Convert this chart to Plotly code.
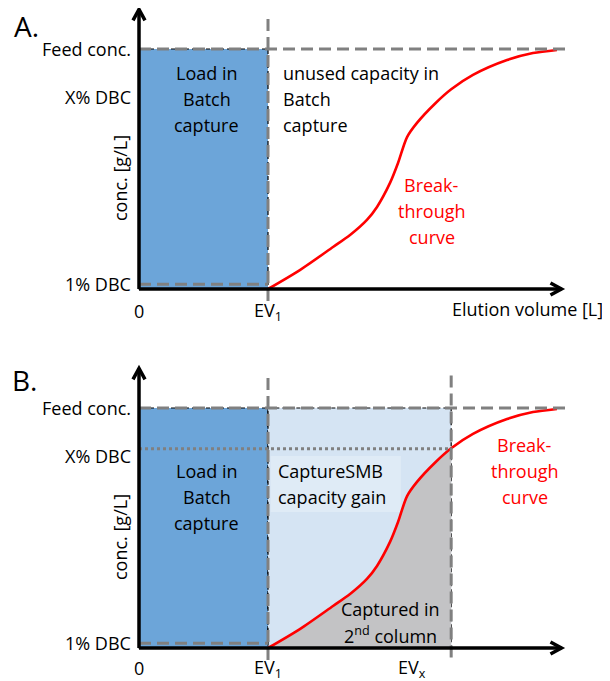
import plotly.graph_objects as go

# ---------------- data ----------------
# concentration levels (y, fraction of feed concentration)
y_tick_labels = ["Feed conc.", "X% DBC", "1% DBC"]
y_tick_values = [1.0, 0.80, 0.02]
feed_conc = 1.0
dbc_1pct = 0.02
xdbc_line = 0.83          # dotted X% DBC line in panel B

# elution volume marks (x)
ev1 = 1.0
evx = 2.42
x_ticks_a = ["0", "EV<sub>1</sub>"]
x_ticks_a_vals = [0.0, ev1]
x_ticks_b = ["0", "EV<sub>1</sub>"]
x_ticks_b_vals = [0.0, ev1]

# breakthrough curve
curve_x = [1.0, 1.25, 1.504, 1.636, 1.767, 1.845, 1.946, 2.008, 2.078, 2.155, 2.30, 2.42, 2.589, 2.853, 3.054, 3.24]
curve_y = [0.0, 0.08, 0.175, 0.225, 0.288, 0.342, 0.442, 0.525, 0.633, 0.692, 0.775, 0.832, 0.892, 0.954, 0.983, 0.996]

# ---------------- styling ----------------
OFF = 8                    # page body margin
W, H = 610 - OFF, 681 - OFF
PX_X = 129.0   # px per x unit
PX_Y = 240.0   # px per y unit
X0 = 139 - OFF       # px of x=0
YA0 = 289 - OFF      # px of y=0 panel A
YB0 = 648 - OFF      # px of y=0 panel B
SPLIT = 340 - OFF

FONT = "Open Sans"
FS = 18
BLUE = "#6CA5D9"
LBLUE = "#D5E4F3"
GRAY_FILL = "#C3C3C5"
GRAY = "#808080"
RED = "#FF0000"
LINE_DY = 26 / PX_Y

x_end_dash = 3.32
x_arrow = 3.275
y_arrow = 1.165

fig = go.Figure()

def axes_names(panel):
    return ("x", "y") if panel == "A" else ("x2", "y2")

# gray fill under curve (panel B, EV1..EVx)
fx = [x for x in curve_x if x <= evx]
fy = [y for x, y in zip(curve_x, curve_y) if x <= evx]
fig.add_trace(go.Scatter(x=fx, y=fy, xaxis="x2", yaxis="y2", mode="lines",
                         line=dict(width=0, shape="spline", smoothing=0.8), fill="tozeroy",
                         fillcolor=GRAY_FILL, hoverinfo="skip", showlegend=False))

# red breakthrough curves
for p in ["A", "B"]:
    xa, ya = axes_names(p)
    fig.add_trace(go.Scatter(x=curve_x, y=curve_y, xaxis=xa, yaxis=ya, mode="lines",
                             line=dict(color=RED, width=2.6, shape="spline", smoothing=0.8),
                             hoverinfo="skip", showlegend=False))

shapes = []
ann = []

def rect(p, x0, x1, y0, y1, color):
    xa, ya = axes_names(p)
    shapes.append(dict(type="rect", xref=xa, yref=ya, x0=x0, x1=x1, y0=y0, y1=y1,
                       fillcolor=color, line=dict(color="black", width=1.2, dash="4px,3px"),
                       layer="below"))

def hline(p, y, x0, x1, dash="12px,6px", color=GRAY, width=3):
    xa, ya = axes_names(p)
    shapes.append(dict(type="line", xref=xa, yref=ya, x0=x0, x1=x1, y0=y, y1=y,
                       line=dict(color=color, width=width, dash=dash), layer="above"))

def vline(p, x, y0, y1, dash="12px,6px", color=GRAY, width=3):
    xa, ya = axes_names(p)
    shapes.append(dict(type="line", xref=xa, yref=ya, x0=x, x1=x, y0=y0, y1=y1,
                       line=dict(color=color, width=width, dash=dash), layer="above"))

def text_block(p, lines, x, y_center, color="black", xanchor="center", size=FS):
    xa, ya = axes_names(p)
    n = len(lines)
    for i, t in enumerate(lines):
        y = y_center + ((n - 1) / 2 - i) * LINE_DY
        ann.append(dict(x=x, y=y, xref=xa, yref=ya, text=t, showarrow=False,
                        xanchor=xanchor, yanchor="middle",
                        font=dict(family=FONT, size=size, color=color)))

def arrows(p):
    xa, ya = axes_names(p)
    # axis lines
    shapes.append(dict(type="line", xref=xa, yref=ya, x0=0, x1=0, y0=0, y1=y_arrow,
                       line=dict(color="black", width=3.5), layer="above"))
    shapes.append(dict(type="line", xref=xa, yref=ya, x0=0, x1=x_arrow, y0=0, y1=0,
                       line=dict(color="black", width=3.5), layer="above"))
    # chevron heads (pixel-sized, anchored at the tips)
    shapes.append(dict(type="path", xref=xa, yref=ya, xsizemode="pixel", ysizemode="pixel",
                       xanchor=0, yanchor=y_arrow, path="M-6,-11 L0,0 L6,-11",
                       line=dict(color="black", width=3.5), layer="above"))
    shapes.append(dict(type="path", xref=xa, yref=ya, xsizemode="pixel", ysizemode="pixel",
                       xanchor=x_arrow, yanchor=0, path="M-11,6 L0,0 L-11,-6",
                       line=dict(color="black", width=3.5), layer="above"))

# ---- panel A ----
rect("A", 0, ev1, 0, feed_conc, BLUE)
hline("A", feed_conc, 0, x_end_dash)
hline("A", dbc_1pct, 0, ev1)
vline("A", ev1, -0.05, 1.14)
arrows("A")
text_block("A", ["Load in", "Batch", "capture"], 0.527, 0.79)
text_block("A", ["unused capacity in", "Batch", "capture"], 1.10, 0.79, xanchor="left")
text_block("A", ["Break-", "through", "curve"], 2.27, 0.325, color=RED)

# ---- panel B ----
rect("B", 0, ev1, 0, feed_conc, BLUE)
rect("B", ev1, evx, 0, feed_conc, LBLUE)
hline("B", feed_conc, 0, x_end_dash)
hline("B", dbc_1pct, 0, ev1)
hline("B", xdbc_line, 0, evx, dash="3px,3px", width=3)
vline("B", ev1, -0.05, 1.146)
vline("B", evx, -0.04, 1.146)
arrows("B")
text_block("B", ["Load in", "Batch", "capture"], 0.527, 0.63)
# light box behind CaptureSMB text
shapes.append(dict(type="rect", xref="x2", yref="y2", x0=1.02, x1=2.03, y0=0.567, y1=0.80,
                   fillcolor="rgba(255,255,255,0.25)", line=dict(width=0), layer="below"))
text_block("B", ["CaptureSMB", "capacity gain"], 1.065, 0.683, xanchor="left")
text_block("B", ["Break-", "through", "curve"], 2.99, 0.7375, color=RED)
text_block("B", ["Captured in", "2<sup>nd</sup> column"], 1.946, 0.108)

# ---- tick labels / titles ----
for p in ["A", "B"]:
    xa, ya = axes_names(p)
    for lab, v in zip(y_tick_labels, y_tick_values):
        ann.append(dict(x=-0.047, y=v, xref=xa, yref=ya, text=lab, showarrow=False,
                        xanchor="right", yanchor="middle", font=dict(family=FONT, size=FS, color="black")))
    ann.append(dict(x=-0.147, y=0.4625, xref=xa, yref=ya, text="conc. [g/L]", textangle=-90,
                    showarrow=False, xanchor="center", yanchor="middle",
                    font=dict(family=FONT, size=FS, color="black")))

for lab, v in zip(x_ticks_a, x_ticks_a_vals):
    ann.append(dict(x=v, y=-0.092, xref="x", yref="y", text=lab, showarrow=False,
                    xanchor="center", yanchor="middle", font=dict(family=FONT, size=FS, color="black")))
for lab, v in zip(x_ticks_b, x_ticks_b_vals):
    ann.append(dict(x=v, y=-0.085, xref="x2", yref="y2", text=lab, showarrow=False,
                    xanchor="center", yanchor="middle", font=dict(family=FONT, size=FS, color="black")))
ann.append(dict(x=evx - 0.18, y=-0.085, xref="x2", yref="y2", text="EV<sub>x</sub>", showarrow=False,
                xanchor="right", yanchor="middle", font=dict(family=FONT, size=FS, color="black")))
ann.append(dict(x=3.61, y=-0.083, xref="x", yref="y", text="Elution volume [L]", showarrow=False,
                xanchor="right", yanchor="middle", font=dict(family=FONT, size=FS, color="black")))
ann.append(dict(x=3.67, y=-0.083, xref="x2", yref="y2", text="Elution volume [L]", showarrow=False,
                xanchor="right", yanchor="middle", font=dict(family=FONT, size=FS, color="black")))
ann.append(dict(x=-0.876, y=1.095, xref="x", yref="y", text="A.", showarrow=False,
                xanchor="center", yanchor="middle", font=dict(family=FONT, size=28, color="black")))
ann.append(dict(x=-0.89, y=1.117, xref="x2", yref="y2", text="B.", showarrow=False,
                xanchor="center", yanchor="middle", font=dict(family=FONT, size=28, color="black")))

xr = [-X0 / PX_X, (W - X0) / PX_X]
split_paper = 1 - SPLIT / H
ax_common = dict(showgrid=False, zeroline=False, showticklabels=False, showline=False,
                 ticks="", fixedrange=True)
fig.update_layout(
    width=W, height=H, margin=dict(l=0, r=0, t=0, b=0),
    paper_bgcolor="white", plot_bgcolor="white", showlegend=False,
    xaxis=dict(domain=[0, 1], range=xr, anchor="y", **ax_common),
    yaxis=dict(domain=[split_paper, 1], range=[-(SPLIT - YA0) / PX_Y, YA0 / PX_Y], anchor="x", **ax_common),
    xaxis2=dict(domain=[0, 1], range=xr, anchor="y2", **ax_common),
    yaxis2=dict(domain=[0, split_paper], range=[-(H - YB0) / PX_Y, (YB0 - SPLIT) / PX_Y], anchor="x2", **ax_common),
    shapes=shapes, annotations=ann,
)
fig.write_html("out.html")
